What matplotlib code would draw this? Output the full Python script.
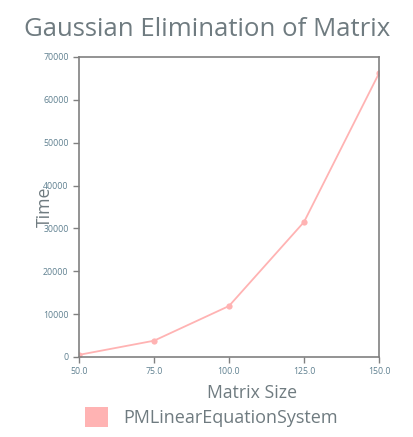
import matplotlib.pyplot as plt
from matplotlib.patches import Patch

# Data
matrix_size = [50.0, 75.0, 100.0, 125.0, 150.0]
time_values = [500, 3800, 11900, 31500, 66200]
x_ticks = [50.0, 75.0, 100.0, 125.0, 150.0]
y_ticks = [0, 10000, 20000, 30000, 40000, 50000, 60000, 70000]

line_color = '#ffb3b3'
text_color = '#6f7b80'
tick_color = '#5f8090'
spine_color = '#808080'

plt.rcParams['font.family'] = ['Open Sans', 'DejaVu Sans']

fig = plt.figure(figsize=(4.14, 4.37), dpi=100)
ax = fig.add_axes([79 / 414, 1 - 357 / 437, 300 / 414, 300 / 437])

ax.plot(matrix_size, time_values, color=line_color, linewidth=1.3,
        marker='o', markersize=4.5, markeredgewidth=0)

ax.set_xlim(50, 150)
ax.set_ylim(0, 70000)
ax.set_xticks(x_ticks)
ax.set_xticklabels([f"{v:.1f}" for v in x_ticks])
ax.set_yticks(y_ticks)
ax.set_yticklabels([str(v) for v in y_ticks])
ax.tick_params(colors=spine_color, labelcolor=tick_color, labelsize=6.3,
               length=4, width=1)

for side in ['left', 'bottom', 'top', 'right']:
    ax.spines[side].set_color(spine_color)
    ax.spines[side].set_linewidth(1.2)

fig.text(0.5, 1 - 29 / 437, "Gaussian Elimination of Matrix", ha='center',
         va='center', fontsize=18.5, color=text_color)
# axis titles sit a little off the axes centre in the reference
ax.set_xlabel("Matrix Size", fontsize=12.7, color=text_color, va='center')
ax.xaxis.set_label_coords((252 - 79) / 300, -(393 - 357) / 300)
ax.set_ylabel("Time", fontsize=12.7, color=text_color, va='center')
ax.yaxis.set_label_coords((45 - 79) / 300, (357 - 207) / 300)

handles = [Patch(facecolor=line_color, edgecolor='none')]
fig.legend(handles, ["PMLinearEquationSystem"], loc='center left',
           bbox_to_anchor=(85 / 414, 1 - 417 / 437), frameon=False,
           fontsize=13, labelcolor=text_color, handlelength=1.3,
           handleheight=1.3, handletextpad=0.8, borderpad=0,
           borderaxespad=0)

fig.savefig('out.png', dpi=100)
